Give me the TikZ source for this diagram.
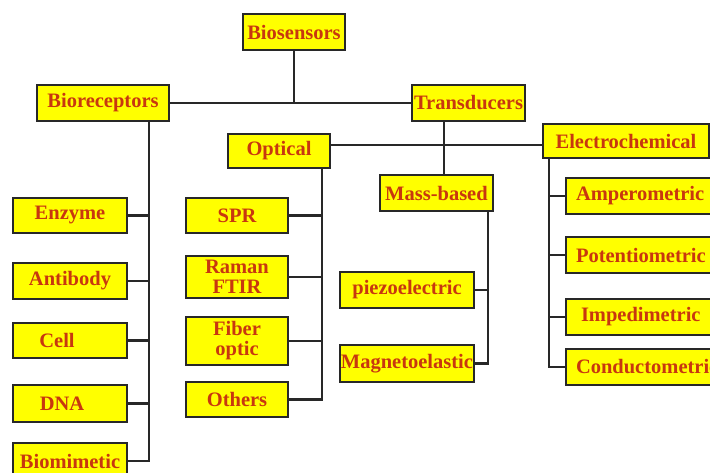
\documentclass[tikz,border=0pt]{standalone}
\usepackage{fontspec}
\setmainfont{Liberation Serif}
\definecolor{boxfill}{RGB}{255,255,0}
\definecolor{boxtext}{RGB}{200,55,15}
\definecolor{boxline}{RGB}{40,40,40}
\begin{document}
\begin{tikzpicture}[x=1pt,y=-1pt,
  box/.style={draw=boxline, line width=2pt, fill=boxfill, text=boxtext,
    font=\fontsize{20.5}{20}\selectfont\bfseries, inner sep=0pt, align=center},
  lbox/.style={box, align=left, text width=140pt, inner xsep=10pt},
  conn/.style={draw=boxline, line width=2.2pt}]
\useasboundingbox (0,0) rectangle (710,473);
\clip (0,0) rectangle (710,473);
\fill[white] (0,0) rectangle (710,473);
% top
\node[box, minimum width=102pt, minimum height=36pt] (bios) at (294,32.5) {Biosensors};
\node[box, minimum width=132pt, minimum height=36pt] (brec) at (103,103) {Bioreceptors};
\node[box, minimum width=113pt, minimum height=36pt] (trans) at (468.5,103) {Transducers};
\node[box, minimum width=102pt, minimum height=34pt] (opt) at (279,151) {Optical};
\node[box, minimum width=166pt, minimum height=34pt] (elec) at (626,141) {Electrochemical};
\node[box, minimum width=113pt, minimum height=36pt] (mass) at (436.5,193) {Mass-based};
% mass children
\node[box, minimum width=134pt, minimum height=36pt] (piezo) at (407,290) {piezoelectric};
\node[box, minimum width=134pt, minimum height=37pt] (magn) at (407,363.5) {Magnetoelastic};
% electrochemical children
\node[lbox, minimum height=36pt] (amp) at (646,196) {Amperometric};
\node[lbox, minimum height=36pt] (pot) at (646,255) {Potentiometric};
\node[lbox, minimum height=36pt] (imp) at (646,317) {\hspace*{5pt}Impedimetric};
\node[lbox, minimum height=36pt] (cond) at (646,367) {Conductometric};
% bioreceptor children
\node[box, minimum width=114pt, minimum height=35pt] (enz) at (70,215.5) {Enzyme};
\node[box, minimum width=114pt, minimum height=36pt] (anti) at (70,281) {Antibody};
\node[box, minimum width=114pt, minimum height=35pt] (cell) at (70,340.5) {Cell\hspace*{26pt}};
\node[box, minimum width=114pt, minimum height=37pt] (dna) at (70,403.5) {DNA\hspace*{16pt}};
\node[box, minimum width=114pt, minimum height=36pt] (biom) at (70,461) {Biomimetic};
% optical children
\node[box, minimum width=102pt, minimum height=35pt] (spr) at (237,215.5) {SPR};
\node[box, minimum width=102pt, minimum height=42pt] (raman) at (237,277) {Raman\\FTIR};
\node[box, minimum width=102pt, minimum height=48pt] (fiber) at (237,341) {Fiber\\optic};
\node[box, minimum width=102pt, minimum height=35pt] (oth) at (237,399.5) {Others};
% trunks
\coordinate (rt) at ([xshift=46pt]brec.south);
\coordinate (ot) at ([xshift=43pt]opt.south);
\coordinate (mt) at ([xshift=51.5pt]mass.south);
\coordinate (et) at ([xshift=-77pt]elec.south);
\coordinate (tt) at ([xshift=-24.5pt]trans.south);
% connectors
\draw[conn] (bios.south) -- (bios.south |- brec.east);
\draw[conn] (brec.east) -- (trans.west);
\draw[conn] (tt) -- (tt |- mass.north);
\draw[conn] ([yshift=6pt]opt.east) -- ([yshift=6pt]opt.east -| elec.west);
\draw[conn] (rt) |- (biom.east);
\foreach \n in {enz,anti,cell,dna} \draw[conn] (\n.east) -- (\n.east -| rt);
\draw[conn] (ot) |- (oth.east);
\foreach \n in {spr,raman,fiber} \draw[conn] (\n.east) -- (\n.east -| ot);
\draw[conn] (mt) |- (magn.east);
\draw[conn] (piezo.east) -- (piezo.east -| mt);
\draw[conn] (et) |- (cond.west);
\foreach \n in {amp,pot,imp} \draw[conn] (\n.west) -- (\n.west -| et);
\end{tikzpicture}
\end{document}
